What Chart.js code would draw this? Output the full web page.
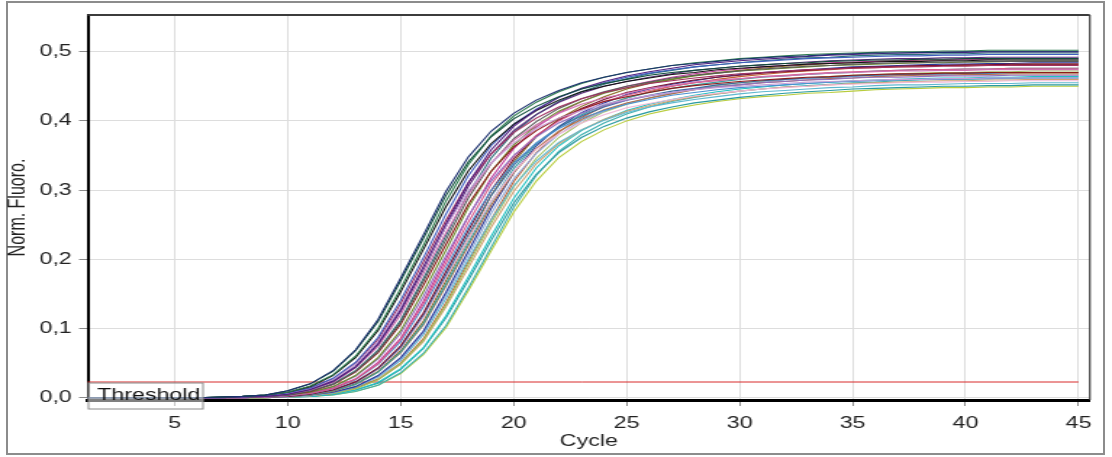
<!DOCTYPE html>
<html>
<head>
<meta charset="utf-8">
<title>Amplification curves</title>
<script src="https://cdn.jsdelivr.net/npm/chart.js@4.4.1/dist/chart.umd.min.js"></script>
<style>
  html, body { margin: 0; padding: 0; background: #fff; width: 1112px; height: 457px; overflow: hidden; }
  #frame { position: absolute; left: 6px; top: 1px; width: 1095px; height: 450px; border: 2px solid #8c8c8c; }
  #stretch { position: absolute; left: 0; top: 0; width: 767px; height: 457px; transform: scaleX(1.4498); transform-origin: 0 0; }
</style>
</head>
<body>
<div id="frame"></div>
<div id="stretch"><canvas id="c" width="767" height="457"></canvas></div>
<script>
// Cycle numbers (x) and normalised fluorescence per tube (y)
const cycles = [1,2,3,4,5, 6,7,8,9,10, 11,12,13,14,15, 16,17,18,19,20, 21,22,23,24,25,
                26,27,28,29,30, 31,32,33,34,35, 36,37,38,39,40, 41,42,43,44,45];

const tube01 = [0,0,0,0,0, 0,.001,.002,.004,.010, .020,.039,.069,.113,.173, .235,.298,.348,.385,.411, .430,.444,.455,.463,.470, .475,.480,.483,.486,.489, .491,.493,.494,.496,.497, .498,.498,.499,.499,.500, .500,.500,.500,.500,.500];
const tube02 = [0,0,0,0,0, 0,.001,.002,.004,.008, .017,.033,.060,.100,.158, .220,.284,.337,.378,.407, .427,.442,.454,.463,.470, .475,.480,.484,.487,.490, .492,.494,.496,.497,.498, .499,.500,.500,.501,.501, .502,.502,.502,.502,.502];
const tube03 = [0,0,0,0,0, 0,.001,.002,.004,.008, .016,.032,.058,.097,.153, .214,.276,.328,.367,.395, .415,.430,.442,.450,.457, .462,.467,.470,.474,.476, .478,.480,.482,.483,.484, .485,.486,.486,.487,.487, .488,.488,.488,.488,.488];
const tube04 = [0,0,0,0,0, 0,0,.001,.003,.007, .014,.028,.051,.087,.141, .202,.265,.321,.364,.395, .417,.434,.446,.455,.463, .469,.474,.478,.481,.484, .486,.488,.490,.491,.492, .493,.494,.494,.495,.495, .496,.496,.496,.496,.496];
const tube05 = [0,0,0,0,0, 0,0,.001,.003,.006, .014,.027,.050,.084,.136, .196,.256,.311,.352,.383, .404,.420,.432,.441,.448, .454,.458,.462,.465,.468, .470,.472,.474,.475,.476, .477,.478,.478,.479,.479, .480,.480,.480,.480,.480];
const tube06 = [0,0,0,0,0, 0,0,.001,.002,.005, .012,.023,.044,.077,.125, .185,.247,.306,.352,.386, .409,.427,.440,.450,.457, .463,.468,.473,.476,.479, .481,.483,.485,.487,.488, .489,.490,.490,.491,.491, .492,.492,.492,.492,.492];
const tube07 = [0,0,0,0,0, 0,0,.001,.002,.005, .011,.022,.043,.074,.120, .179,.238,.294,.339,.372, .394,.411,.424,.433,.440, .447,.451,.456,.459,.461, .464,.465,.467,.469,.470, .471,.472,.472,.473,.473, .474,.474,.474,.474,.474];
const tube08 = [0,0,0,0,0, 0,0,.001,.002,.004, .010,.020,.039,.069,.112, .172,.234,.296,.346,.383, .409,.428,.442,.453,.461, .468,.473,.478,.481,.484, .487,.489,.491,.492,.494, .495,.496,.496,.497,.497, .498,.498,.498,.498,.498];
const tube09 = [0,0,0,0,0, 0,0,.001,.002,.004, .009,.019,.037,.065,.106, .162,.221,.280,.327,.362, .386,.404,.417,.428,.435, .441,.447,.451,.454,.457, .459,.461,.463,.464,.466, .467,.468,.468,.469,.469, .470,.470,.470,.470,.470];
const tube10 = [0,0,0,0,0, 0,0,.001,.002,.004, .008,.016,.032,.058,.097, .153,.213,.275,.327,.365, .394,.414,.428,.440,.448, .455,.460,.465,.469,.472, .474,.476,.478,.480,.481, .482,.483,.484,.484,.485, .485,.486,.486,.486,.486];
const tube11 = [0,0,0,0,0, 0,0,.001,.001,.003, .008,.016,.031,.056,.093, .146,.205,.263,.313,.350, .377,.397,.411,.422,.430, .436,.441,.446,.449,.452, .455,.457,.459,.460,.462, .463,.463,.464,.465,.465, .465,.466,.466,.466,.466];
const tube12 = [0,0,0,0,0, 0,0,0,.001,.003, .007,.014,.027,.051,.086, .139,.200,.262,.317,.360, .391,.412,.428,.441,.450, .457,.463,.468,.472,.475, .478,.480,.482,.484,.485, .486,.487,.488,.488,.489, .489,.490,.490,.490,.490];
const tube13 = [0,0,0,0,0, 0,0,0,.001,.003, .006,.013,.026,.048,.081, .131,.188,.247,.299,.339, .368,.389,.404,.415,.424, .431,.437,.441,.445,.448, .450,.452,.454,.456,.457, .458,.459,.460,.460,.461, .461,.462,.462,.462,.462];
const tube14 = [0,0,0,0,0, 0,0,0,.001,.002, .005,.011,.023,.043,.075, .122,.182,.242,.299,.345, .378,.401,.418,.431,.441, .448,.454,.459,.463,.466, .469,.471,.473,.475,.477, .478,.479,.480,.480,.481, .481,.482,.482,.482,.482];
const tube15 = [0,0,0,0,0, 0,0,0,.001,.002, .005,.011,.022,.041,.071, .116,.173,.230,.284,.327, .359,.381,.397,.409,.419, .425,.431,.436,.440,.443, .446,.448,.450,.452,.453, .454,.455,.456,.456,.457, .457,.458,.458,.458,.458];
const tube16 = [0,0,0,0,0, 0,0,0,.001,.002, .004,.010,.019,.037,.066, .107,.164,.224,.283,.331, .367,.391,.409,.423,.433, .441,.447,.452,.456,.460, .463,.465,.467,.469,.470, .472,.473,.474,.474,.475, .475,.476,.476,.476,.476];
const tube17 = [0,0,0,0,0, 0,0,0,.001,.002, .004,.009,.019,.037,.065, .105,.161,.220,.278,.325, .360,.385,.402,.416,.426, .433,.439,.445,.449,.452, .455,.457,.459,.461,.462, .464,.465,.466,.466,.467, .467,.468,.468,.468,.468];
const tube18 = [0,0,0,0,0, 0,0,0,.001,.002, .004,.008,.016,.032,.058, .096,.152,.212,.273,.325, .364,.392,.412,.426,.438, .446,.453,.458,.463,.467, .470,.472,.474,.476,.478, .479,.480,.481,.482,.482, .483,.483,.484,.484,.484];
const tube19 = [0,0,0,0,0, 0,0,0,.001,.001, .003,.007,.015,.030,.054, .091,.143,.200,.257,.306, .342,.369,.387,.401,.412, .420,.426,.431,.435,.439, .442,.444,.446,.448,.449, .451,.452,.452,.453,.454, .454,.454,.455,.455,.455];
const tube20 = [0,0,0,0,0, 0,0,0,0,.001, .003,.006,.013,.026,.049, .083,.134,.193,.252,.305, .346,.376,.397,.413,.424, .433,.440,.446,.451,.455, .457,.460,.462,.464,.466, .467,.468,.469,.470,.470, .471,.471,.472,.472,.472];
const tube21 = [0,0,0,0,0, 0,0,0,0,.001, .003,.006,.013,.026,.048, .081,.131,.188,.246,.298, .338,.367,.387,.402,.414, .422,.429,.435,.439,.443, .446,.449,.450,.452,.454, .455,.456,.457,.458,.458, .459,.459,.460,.460,.460];
const tube22 = [0,0,0,0,0, 0,0,0,0,.001, .002,.005,.011,.022,.042, .072,.118,.175,.233,.288, .332,.364,.386,.402,.415, .424,.431,.437,.442,.446, .449,.452,.454,.456,.458, .459,.460,.461,.462,.462, .463,.463,.464,.464,.464];
const tube23 = [0,0,0,0,0, 0,0,0,0,.001, .002,.005,.011,.021,.041, .071,.115,.170,.227,.281, .323,.354,.376,.392,.404, .413,.420,.426,.430,.434, .437,.440,.442,.444,.446, .447,.448,.449,.450,.450, .451,.451,.452,.452,.452];
const tube24 = [0,0,0,0,0, 0,0,0,0,.001, .002,.004,.009,.018,.035, .062,.101,.155,.212,.268, .313,.347,.370,.387,.400, .410,.417,.423,.428,.432, .435,.437,.440,.441,.443, .445,.446,.447,.448,.448, .449,.449,.450,.450,.450];
const tube25 = [0,0,0,0,0, 0,.001,.002,.004,.010, .020,.038,.068,.110,.169, .230,.292,.341,.377,.403, .421,.435,.446,.454,.460, .466,.470,.473,.476,.479, .481,.483,.484,.486,.487, .488,.488,.489,.489,.490, .490,.490,.490,.490,.490];
const tube26 = [0,0,0,0,0, 0,0,.001,.003,.006, .013,.026,.048,.081,.131, .188,.247,.299,.339,.368, .389,.404,.415,.424,.431, .437,.441,.445,.448,.450, .452,.454,.456,.457,.458, .459,.460,.460,.461,.461, .462,.462,.462,.462,.462];
const tube27 = [0,0,0,0,0, 0,0,.001,.002,.004, .010,.019,.038,.067,.109, .168,.228,.289,.338,.374, .399,.418,.432,.442,.450, .456,.462,.466,.469,.472, .475,.477,.479,.480,.482, .483,.484,.484,.485,.485, .486,.486,.486,.486,.486];
const tube28 = [0,0,0,0,0, 0,0,0,.001,.003, .006,.013,.027,.049,.084, .135,.194,.254,.308,.349, .379,.400,.416,.428,.437, .444,.450,.455,.458,.461, .464,.466,.468,.470,.471, .472,.473,.474,.474,.475, .475,.476,.476,.476,.476];
const tube29 = [0,0,0,0,0, 0,0,0,.001,.002, .004,.010,.020,.038,.068, .110,.169,.230,.292,.341, .377,.403,.421,.435,.446, .454,.460,.466,.470,.473, .476,.479,.481,.483,.484, .486,.487,.488,.488,.489, .489,.490,.490,.490,.490];
const tube30 = [0,0,0,0,0, 0,0,0,0,.001, .003,.006,.014,.027,.050, .085,.137,.197,.257,.312, .354,.384,.405,.421,.433, .442,.450,.455,.460,.464, .467,.470,.472,.474,.476, .477,.478,.479,.480,.480, .481,.481,.482,.482,.482];
const tube31 = [0,0,0,0,0, 0,0,0,0,.001, .002,.004,.009,.018,.036, .064,.104,.159,.217,.275, .321,.356,.380,.397,.410, .420,.428,.434,.439,.443, .446,.449,.451,.453,.455, .456,.458,.459,.460,.460, .461,.461,.462,.462,.462];
const tube32 = [0,0,0,0,0, 0,0,.001,.002,.005, .012,.024,.045,.078,.127, .189,.251,.311,.358,.392, .416,.434,.447,.457,.465, .471,.476,.481,.484,.487, .489,.491,.493,.495,.496, .497,.498,.498,.499,.499, .500,.500,.500,.500,.500];
const tube33 = [0,0,0,0,0, 0,0,0,.001,.002, .005,.011,.022,.042,.073, .119,.177,.236,.292,.336, .368,.391,.407,.420,.430, .437,.443,.447,.452,.455, .458,.460,.462,.463,.465, .466,.467,.468,.468,.469, .469,.470,.470,.470,.470];
const tube34 = [0,0,0,0,0, 0,0,0,.001,.001, .003,.008,.016,.031,.056, .094,.148,.206,.266,.316, .353,.381,.400,.414,.425, .433,.440,.445,.450,.453, .456,.459,.461,.462,.464, .466,.466,.467,.468,.468, .469,.469,.470,.470,.470];

const tubes = [tube01, tube25, tube02, tube32, tube03, tube04, tube26, tube05, tube06, tube07, tube27, tube08,
               tube09, tube10, tube11, tube28, tube12, tube13, tube14, tube33, tube15, tube16, tube29, tube17,
               tube18, tube34, tube19, tube20, tube30, tube21, tube22, tube23, tube31, tube24];

const tubeColors = ['#1b2f6e', '#0f4d3a', '#2e7d4f', '#502080', '#111111', '#3f5fbf', '#c8a0d8', '#a03060',
                    '#5a2a7a', '#d070b0', '#5a5a5a', '#2a6f7a', '#8b1a1a', '#6a8a2a', '#9070c0', '#d85a8a',
                    '#c03a9a', '#4a90d0', '#7a1030', '#3a6aa0', '#f0b8d8', '#3aa0a0', '#8a6a20', '#b0704a',
                    '#2a3a9a', '#90a8d8', '#60b8d0', '#a0c060', '#c06030', '#d0a070', '#20c0c0', '#2a9aa0',
                    '#40b0b0', '#b8cc3c'];

const threshold = 0.0227;
const xTicks = [5, 10, 15, 20, 25, 30, 35, 40, 45];
const yTicks = [0, 0.1, 0.2, 0.3, 0.4, 0.5];
const yTickLabels = ['0,0', '0,1', '0,2', '0,3', '0,4', '0,5'];

const FONT = '"Liberation Sans", Arial, sans-serif';

const datasets = tubes.map((t, i) => ({
  data: cycles.map((c, k) => ({ x: c, y: t[k] })),
  borderColor: tubeColors[i],
  borderWidth: 1.1,
  pointRadius: 0,
  tension: 0,
  fill: false
}));
datasets.push({
  data: [{ x: cycles[0], y: threshold }, { x: cycles[cycles.length - 1], y: threshold }],
  borderColor: '#d82a2a',
  borderWidth: 1,
  pointRadius: 0,
  fill: false
});

// Top/right frame of the plot and the "Threshold" tag on the threshold line
const plotFrame = {
  id: 'plotFrame',
  afterDatasetsDraw(chart) {
    const { ctx, chartArea: a, scales: { y } } = chart;
    ctx.save();
    ctx.strokeStyle = '#3c3c3c';
    ctx.lineWidth = 2;
    ctx.beginPath(); ctx.moveTo(a.left, a.top); ctx.lineTo(a.right, a.top); ctx.stroke();
    ctx.lineWidth = 1.2;
    ctx.beginPath(); ctx.moveTo(a.right, a.top); ctx.lineTo(a.right, a.bottom); ctx.stroke();

    const ty = y.getPixelForValue(threshold);
    const bx = a.left + 0.5, by = ty + 1, bw = 79, bh = 26;
    ctx.fillStyle = 'rgba(255,255,255,0.5)';
    ctx.fillRect(bx, by, bw, bh);
    ctx.strokeStyle = '#8a8a8a';
    ctx.lineWidth = 1;
    ctx.strokeRect(bx, by, bw, bh);
    ctx.fillStyle = '#111';
    ctx.font = '16px ' + FONT;
    ctx.textBaseline = 'middle';
    ctx.textAlign = 'left';
    ctx.fillText('Threshold', bx + 6, by + 13);
    ctx.restore();
  }
};

new Chart(document.getElementById('c'), {
  type: 'line',
  data: { datasets },
  plugins: [plotFrame],
  options: {
    responsive: false,
    animation: false,
    devicePixelRatio: 1,
    layout: { padding: { top: 15, right: 15.3, left: 0, bottom: 0 } },
    plugins: { legend: { display: false }, tooltip: { enabled: false } },
    scales: {
      x: {
        type: 'linear', min: 1.15, max: 45.5,
        afterBuildTicks: s => { s.ticks = xTicks.map(v => ({ value: v })); },
        afterFit: s => { s.height = 57; },
        ticks: { font: { family: FONT, size: 16 }, color: '#222', padding: 8, maxRotation: 0, autoSkip: false },
        grid: { color: '#dddddd', lineWidth: 1, tickColor: '#8a8a8a', tickLength: 6 },
        border: { color: '#000', width: 3 },
        title: { display: true, text: 'Cycle', font: { family: FONT, size: 16 }, color: '#222', padding: { top: 0, bottom: 6 } }
      },
      y: {
        type: 'linear', min: -0.0033, max: 0.553,
        afterBuildTicks: s => { s.ticks = yTicks.map(v => ({ value: v })); },
        afterFit: s => { s.width = 60.5; },
        ticks: { font: { family: FONT, size: 16 }, color: '#222', padding: 5,
                 callback: v => yTickLabels[yTicks.indexOf(v)] },
        grid: { color: '#dddddd', lineWidth: 1, tickColor: '#8a8a8a', tickLength: 6 },
        border: { color: '#000', width: 2 },
        title: { display: true, text: 'Norm. Fluoro.', font: { family: FONT, size: 16 }, color: '#222', padding: { top: 3, bottom: 0 } }
      }
    }
  }
});
</script>
</body>
</html>
